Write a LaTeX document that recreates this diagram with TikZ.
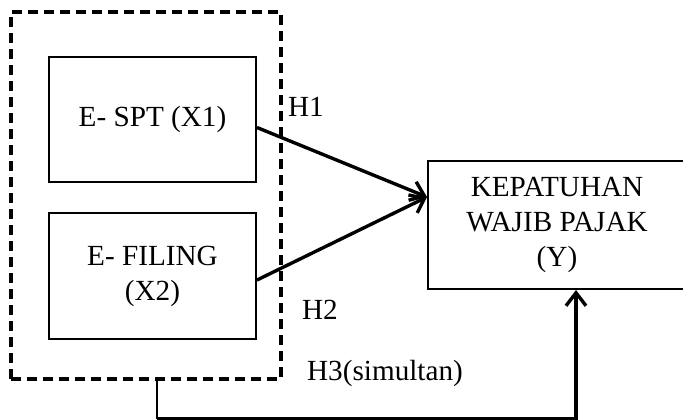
\documentclass[tikz,border=0pt]{standalone}
\usepackage{fontspec}
\setmainfont{Liberation Serif}
\usetikzlibrary{arrows.meta}

\tikzset{
  varbox/.style={draw, line width=1pt, align=center, inner sep=0pt},
  grpbox/.style={draw, dashed, line width=1.6pt, dash pattern=on 5pt off 3pt},
  link/.style={line width=1.7pt, -{Straight Barb[length=6.5pt,width=10pt,line width=1.7pt]}}
}

\begin{document}
\begin{tikzpicture}[x=0.5pt,y=-0.5pt,font=\fontsize{14.6}{17.5}\selectfont]
\useasboundingbox (0,0) rectangle (683,419);
% kotak kelompok variabel X
\node[grpbox, minimum width=135pt, minimum height=183.5pt] (grp) at (146,195.5) {};
\node[varbox, minimum width=103.5pt, minimum height=62.5pt] (spt) at (152.5,119.5) {E- SPT (X1)};
\node[varbox, minimum width=103.5pt, minimum height=63pt] (fil) at (152.5,276) {E- FILING\\(X2)};
% variabel Y
\node[varbox, minimum width=129pt, minimum height=64pt] (kep) at (557,225) {KEPATUHAN\\WAJIB PAJAK\\(Y)};
% hipotesis
\draw[link] ([yshift=-4pt]spt.east) -- ([yshift=14pt]kep.west);
\draw[link] ([yshift=-2pt]fil.east) -- ([yshift=14pt]kep.west);
\draw[line width=1pt] ([xshift=5.5pt]grp.south) -- ++(0,38) coordinate (c1);
\draw[link] (c1) -| ([xshift=9.5pt]kep.south);
\node (h1) at (306,107) {H1};
\node (h2) at (320,310) {H2};
\node (h3) at (385,373) {H3(simultan)};
\end{tikzpicture}
\end{document}
